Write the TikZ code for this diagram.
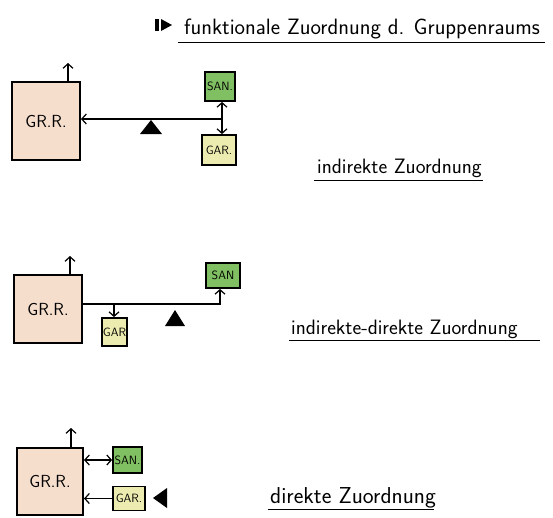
\documentclass[tikz,border=0pt]{standalone}
\usepackage{fontspec}
\usetikzlibrary{arrows.meta}
\definecolor{roomPeach}{RGB}{246,222,205}
\definecolor{sanGreen}{RGB}{128,192,98}
\definecolor{garYellow}{RGB}{236,236,176}
\tikzset{
  room/.style={draw, line width=2pt, fill=roomPeach, inner sep=0pt, font=\sffamily\fontsize{17.5}{20}\selectfont},
  sanbox/.style={draw, line width=1.8pt, fill=sanGreen, inner sep=0pt, font=\sffamily\fontsize{12}{13}\selectfont},
  garbox/.style={draw, line width=1.8pt, fill=garYellow, inner sep=0pt, font=\sffamily\fontsize{12}{13}\selectfont},
  conn/.style={line width=1.2pt, >={Straight Barb[length=4.5pt,width=10pt,line width=1.2pt]}},
  caption/.style={anchor=base west, inner sep=0pt, font=\sffamily\fontsize{20.8}{24}\selectfont},
}
\begin{document}
\begin{tikzpicture}[x=1pt,y=-1pt]
\useasboundingbox (0,0) rectangle (553,517);

% Title
\fill (155,19) rectangle (159,31) ;
\fill (161,19) -- (172,25) -- (161,31) -- cycle ;
\node [caption, font=\sffamily\fontsize{22.2}{26}\selectfont] (title) at (184,34) {funktionale Zuordnung d. Gruppenraums};
\draw [line width=1pt] (178,42) -- (545,42) ;

%Shape: Rectangle [indirekte Zuordnung]
\node [room, minimum width=68, minimum height=78] (grr1) at (46,121) {GR.R.};
\node [sanbox, minimum width=30, minimum height=29] (san1) at (220,86.5) {SAN.};
\node [garbox, minimum width=34, minimum height=30] (gar1) at (219,150) {GAR.};
\coordinate (j1) at (222,119);
\coordinate (up1) at (68,63);
%Straight Lines
\draw [conn, ->] (up1 |- grr1.north) -- (up1) ;
\draw [conn, ->] (j1) -- (j1 -| grr1.east) ;
\draw [conn, <->] (j1 |- san1.south) -- (j1 |- gar1.north) ;
\fill (140,134) -- (151,120) -- (162,134) -- cycle ;
% Text Node
\node [caption] (lab1) at (317,173) {indirekte Zuordnung};
\draw [line width=1pt] (314,180) -- (483,180) ;

%Shape: Rectangle [indirekte-direkte Zuordnung]
\node [room, minimum width=68, minimum height=68] (grr2) at (48,309) {GR.R.};
\node [sanbox, minimum width=34, minimum height=25] (san2) at (223,275.5) {SAN};
\node [garbox, minimum width=25, minimum height=28] (gar2) at (114.5,332) {GAR};
\coordinate (j2) at (220,304);
\coordinate (b2) at (114,304);
\coordinate (up2) at (70,256);
%Straight Lines
\draw [conn, ->] (up2 |- grr2.north) -- (up2) ;
\draw [conn, ->] (j2 -| grr2.east) -- (j2) -- (j2 |- san2.south) ;
\draw [conn, ->] (b2) -- (b2 |- gar2.north) ;
\fill (165,326) -- (175,310) -- (185,326) -- cycle ;
% Text Node
\node [caption] (lab2) at (291,334) {indirekte-direkte Zuordnung};
\draw [line width=1pt] (289,340) -- (540,340) ;

%Shape: Rectangle [direkte Zuordnung]
\node [room, minimum width=66, minimum height=67] (grr3) at (50,481.5) {GR.R.};
\node [sanbox, minimum width=29, minimum height=26] (san3) at (127.5,460) {SAN.};
\node [garbox, minimum width=32, minimum height=24] (gar3) at (129,498.5) {GAR.};
\coordinate (up3) at (71,428);
%Straight Lines
\draw [conn, ->] (up3 |- grr3.north) -- (up3) ;
\draw [conn, <->] (grr3.east |- san3.west) -- (san3.west) ;
\draw [conn, ->] (gar3.west) -- (grr3.east |- gar3.west) ;
\fill (153,498) -- (167,488) -- (167,508) -- cycle ;
% Text Node
\node [caption, font=\sffamily\fontsize{23}{26}\selectfont] (lab3) at (270,503) {direkte Zuordnung};
\draw [line width=1pt] (268,509) -- (434,509) ;
\end{tikzpicture}
\end{document}
